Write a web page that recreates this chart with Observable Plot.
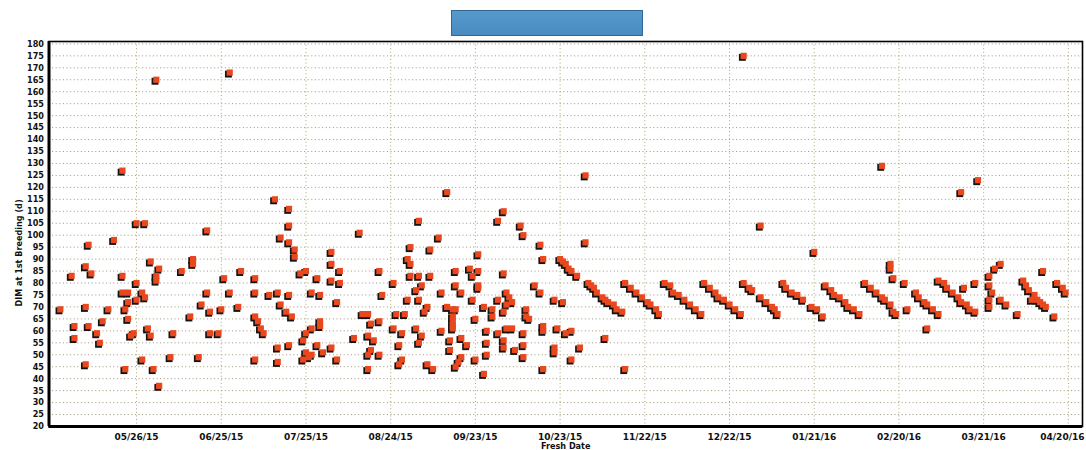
<!DOCTYPE html>
<html>
<head>
<meta charset="utf-8">
<script src="https://cdn.jsdelivr.net/npm/d3@7"></script>
<script src="https://cdn.jsdelivr.net/npm/@observablehq/plot@0.6"></script>
<style>
  body { margin: 0; background: #fff; }
  #wrap { position: relative; width: 1086px; height: 450px; overflow: hidden; background: #fff; }
  #titlebox { position: absolute; left: 451px; top: 10px; width: 190px; height: 24px;
              background: linear-gradient(#5598cb, #4a8cc0); border: 1px solid #2f6896; }
  #chart { position: absolute; left: 0; top: 0; }
</style>
</head>
<body>
<div id="wrap"><div id="chart"></div><div id="titlebox"></div></div>
<script>
// Fresh date as days since the start of the axis (2015-04-25); DIM at first breeding
const baseDate = "2015-04-25";
const axisEnd = "2016-04-25";
const freshDays = [
  4,8,9,9,13,13,13,14,14,15,17,18,19,23,21,26,28,26,27,28,28,31,31,30,29,27,33,31,34,33,34,36,35,36,37,39,38,38,39,43,44,47,50,51,51,53,54,56,56,57,57,60,61,62,26,38,64,
  64,68,67,73,73,80,85,85,82,85,87,87,73,74,75,76,78,81,82,84,86,85,81,81,73,85,89,91,90,91,93,91,90,92,93,93,95,96,96,96,95,97,100,100,100,103,100,103,102,102,110,108,111,113,114,117,117,118,122,123,122,113,115,113,114,117,113,
  141,161,159,131,167,168,138,128,135,174,152,127,128,175,
  181,182,183,184,185,187,191,192,193,194,196,197,198,200,201,203,
  128,131,135,144,149,150,152,152,152,161,144,139,146,132,130,127,131,172,174,162,159,163,164,150,154,157,157,162,161,169,169,170,179,182,141,143,144,143,143,143,143,133,134,126,151,139,155,155,155,159,162,164,168,168,168,161,161,165,175,175,180,183,185,125,124,125,124,132,131,130,134,136,142,142,146,148,146,145,144,151,154,175,185,179,179,
  190,188,197,204,
  204,206,208,210,212,213,215,216,
  218,220,221,223,225,227,229,231,
  232,234,236,237,239,241,243,245,
  246,248,249,252,254,256,257,258,
  252,271,
  260,261,263,265,267,270,272,274,
  275,277,278,280,282,283,285,287,
  289,291,293,295,296,298,299,300,304,298,298,299,303,311,
  307,308,310,311,313,315,
  315,317,318,320,322,323,325,326,328,324,328,
  337,335,333,333,334,333,333,337,339,343,352,
  345,346,347,349,350,351,352,353,348,
  356,357,359,360,
  190,246,295,329,323
];
const dimValues = [
  69,83,62,57,46,70,87,96,62,84,59,55,64,98,69,83,76,76,69,72,65,80,73,59,58,44,48,105,105,76,74,89,61,58,44,37,83,81,86,49,59,85,66,90,88,49,71,102,76,68,59,59,69,82,127,165,168,
  76,85,70,82,76,115,111,104,99,97,94,91,66,64,61,59,75,76,71,68,66,75,53,47,48,54,84,85,56,59,61,51,48,49,50,76,82,75,64,62,54,51,53,93,88,85,81,80,72,48,101,57,67,67,63,64,85,75,80,67,61,58,56,50,52,50,44,
  118,110,106,106,104,100,99,95,94,96,92,90,88,90,
  90,89,88,86,85,83,80,79,78,76,74,73,72,71,69,68,
  83,83,83,85,86,83,79,78,85,84,79,76,76,79,77,73,73,79,76,76,73,74,72,73,70,69,66,71,68,69,66,65,73,72,70,69,69,66,64,62,61,68,70,67,65,60,60,55,50,59,61,61,59,54,49,56,53,52,62,60,61,59,60,59,54,48,46,58,55,61,46,44,56,52,57,54,49,47,45,48,42,44,48,53,51,
  97,53,57,44,
  80,78,76,74,72,71,69,67,
  80,79,76,75,73,71,69,67,
  80,78,76,74,73,71,69,67,
  80,78,77,74,72,70,69,67,
  104,93,
  80,78,76,75,73,70,69,66,
  79,77,75,74,72,70,69,67,
  80,78,76,74,73,71,68,67,69,88,86,82,80,61,
  76,74,72,71,69,67,
  81,80,78,76,74,72,71,69,68,78,80,
  88,86,83,79,76,73,70,73,71,67,85,
  81,79,77,75,73,72,71,70,73,
  66,80,78,76,
  125,175,129,123,118
];
const xTickDates = ["2015-05-26","2015-06-25","2015-07-25","2015-08-24","2015-09-23","2015-10-23",
                    "2015-11-22","2015-12-22","2016-01-21","2016-02-20","2016-03-21","2016-04-20"];
const yTicks = d3.range(20, 181, 5);
const yLabel = "DIM at 1st Breeding (d)";
const xLabel = "Fresh Date";

const base = new Date(baseDate + "T00:00:00Z");
const data = freshDays.map((d, i) => ({date: d3.utcDay.offset(base, d), dim: dimValues[i]}));
const xTicks = xTickDates.map(s => new Date(s + "T00:00:00Z"));
const fmt = d3.utcFormat("%m/%d/%y");
const condensed = "'DejaVu Sans Condensed', 'DejaVu Sans', sans-serif";
const xAxisStyle = {tickSize: 0, tickPadding: 7, label: null, tickFormat: fmt, fontSize: 9,
                    fontWeight: "bold", fontFamily: "'DejaVu Sans', sans-serif", fill: "#111"};

const chart = Plot.plot({
  width: 1086,
  height: 450,
  marginLeft: 48.5,
  marginRight: 4,
  marginTop: 41,
  marginBottom: 24,
  style: {background: "transparent", fontFamily: condensed, overflow: "visible"},
  x: {type: "utc", domain: [base, new Date(axisEnd + "T00:00:00Z")]},
  y: {domain: [20, 181]},
  marks: [
    Plot.gridY(yTicks, {stroke: "#9c9478", strokeOpacity: 1, strokeDasharray: "1,2.6", strokeWidth: 1}),
    Plot.gridX(xTicks, {stroke: "#b0a470", strokeOpacity: 1, strokeDasharray: "1,2.6", strokeWidth: 1}),
    Plot.dot(data, {x: "date", y: "dim", symbol: "square", r: 3.9, fill: "#141414", dx: -1.3, dy: 1.5}),
    Plot.dot(data, {x: "date", y: "dim", symbol: "square", r: 3.5, fill: "#e9481f"}),
    Plot.frame({stroke: "#000", strokeWidth: 1.6}),
    Plot.ruleX([base], {stroke: "#000", strokeWidth: 3}),
    Plot.ruleY([20], {stroke: "#000", strokeWidth: 3}),
    Plot.axisY(yTicks, {tickSize: 0, tickPadding: 5, label: null, fontSize: 9, fontWeight: "bold",
                        fontFamily: condensed, fill: "#111"}),
    Plot.axisX(xTicks.slice(0, -1), xAxisStyle),
    Plot.axisX(xTicks.slice(-1), {...xAxisStyle, dx: -6}),
    Plot.text([yLabel], {frameAnchor: "left", textAnchor: "middle", rotate: -90, dx: -30, dy: 19,
                         fontSize: 9, fontWeight: "bold", fontFamily: condensed, fill: "#111"}),
    Plot.text([xLabel], {frameAnchor: "bottom", lineAnchor: "bottom", dy: 22, fontSize: 9,
                         fontWeight: "bold", fontFamily: condensed, fill: "#111"})
  ]
});
document.getElementById("chart").appendChild(chart);
</script>
</body>
</html>
